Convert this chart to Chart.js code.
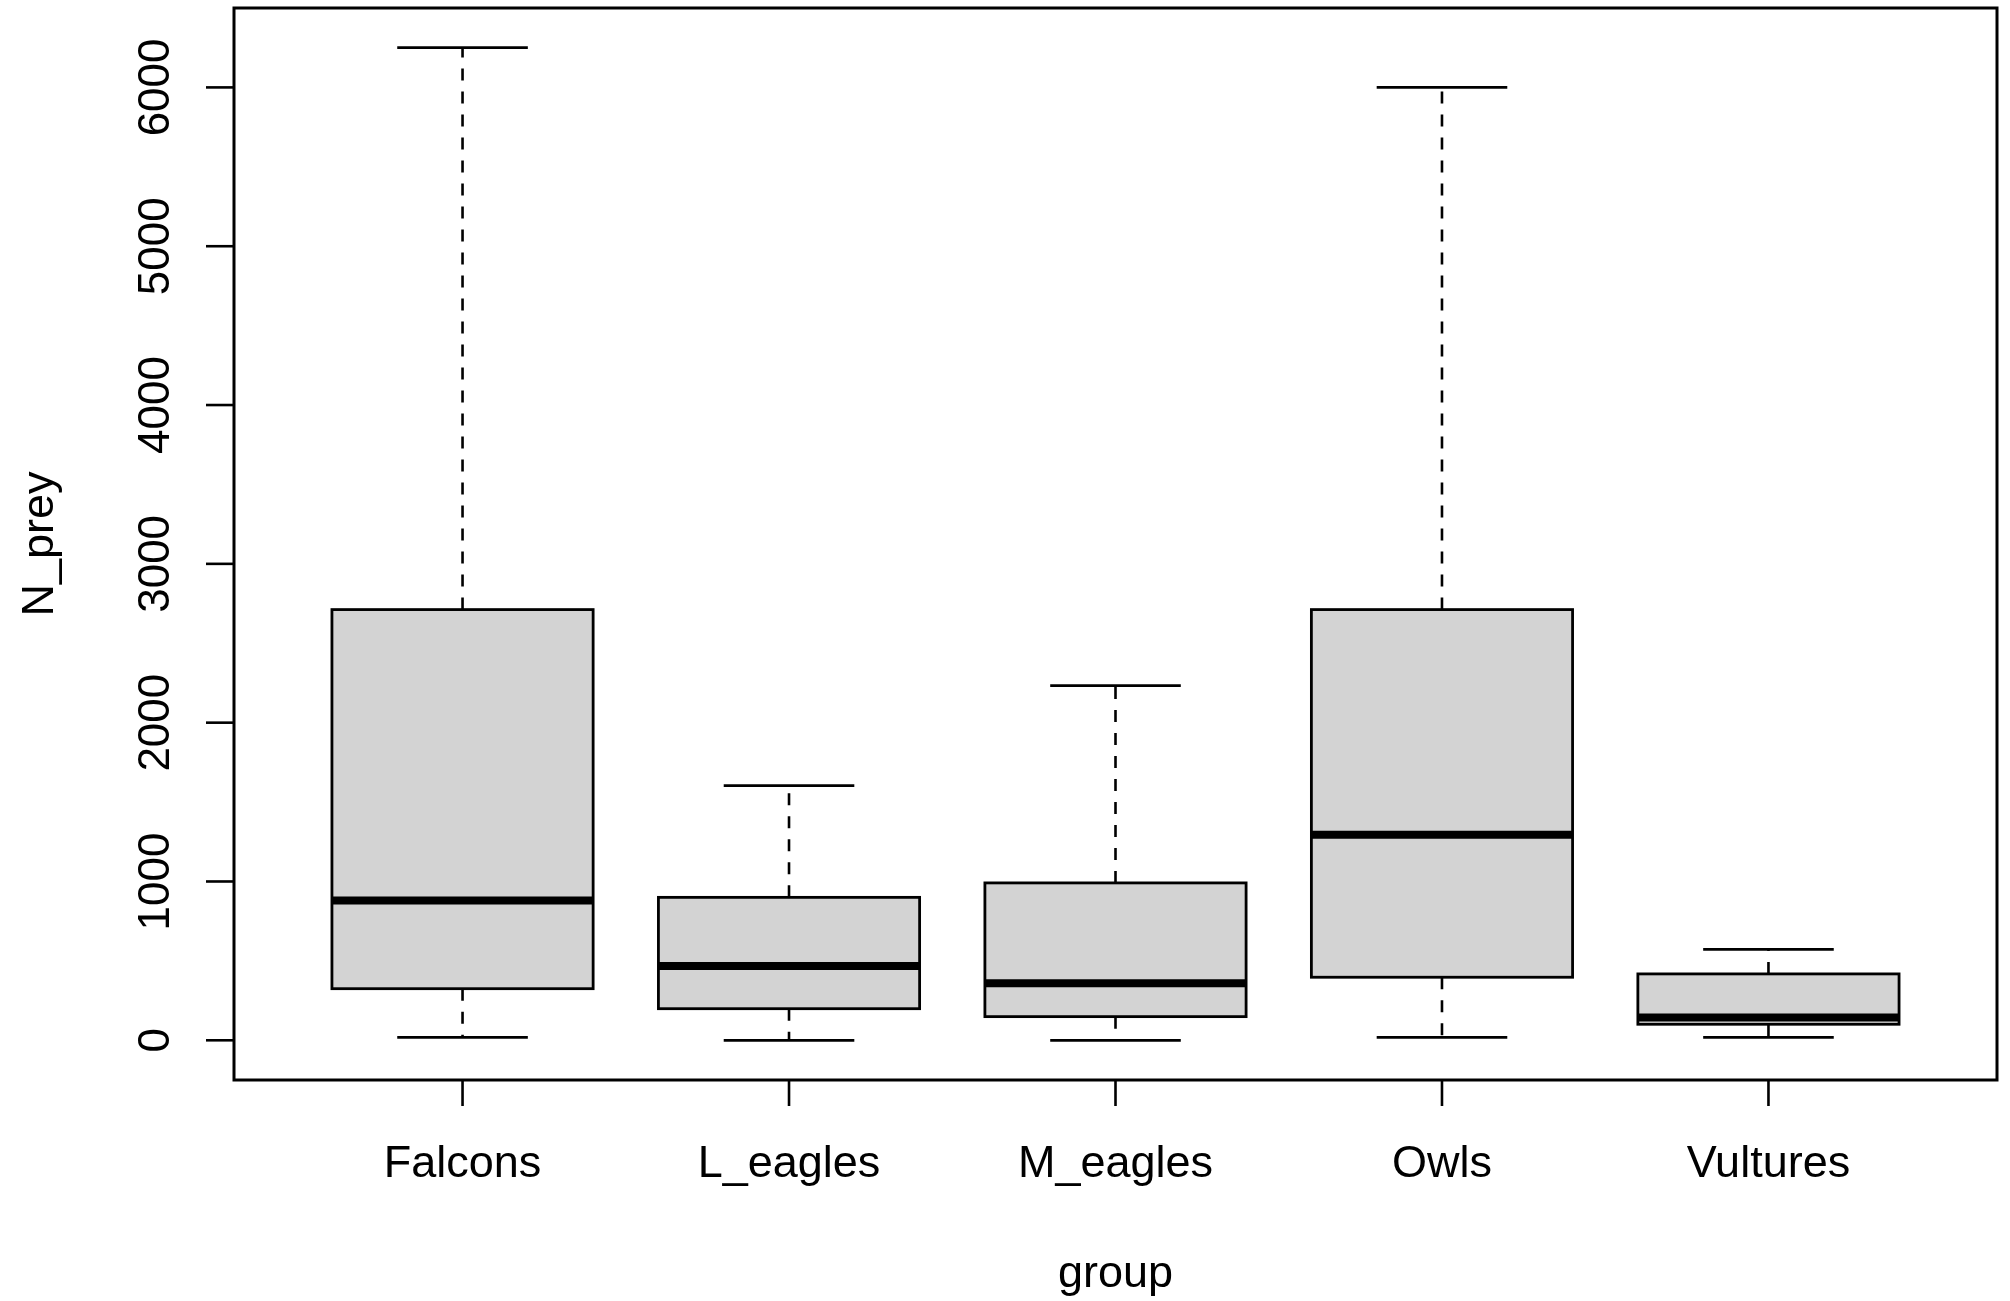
<!DOCTYPE html>
<html>
<head>
<meta charset="utf-8">
<script src="https://cdn.jsdelivr.net/npm/chart.js@4/dist/chart.umd.min.js"></script>
<style>
  html, body { margin: 0; padding: 0; background: #fff; overflow: hidden; }
  #wrap { position: relative; width: 2010px; height: 1301px; }
</style>
</head>
<body>
<div id="wrap"><canvas id="c" width="2010" height="1301"></canvas></div>
<script>
// Prey counts per raptor group: five-number summaries
const groups      = ['Falcons', 'L_eagles', 'M_eagles', 'Owls', 'Vultures'];
const whiskerLow  = [19,   0,    0,    19,   19];
const quartile1   = [325,  199,  149,  397,  101];
const median      = [880,  468,  359,  1294, 143];
const quartile3   = [2712, 900,  991,  2712, 418];
const whiskerHigh = [6250, 1603, 2233, 6000, 573];

const yTicks      = [0, 1000, 2000, 3000, 4000, 5000, 6000];
const yTickLabels = ['0', '1000', '2000', '3000', '4000', '5000', '6000'];
const xTitle = 'group';
const yTitle = 'N_prey';

const FONT = '"Liberation Sans", Arial, sans-serif';

function seg(ctx, x1, y1, x2, y2) {
  ctx.beginPath();
  ctx.moveTo(x1, y1);
  ctx.lineTo(x2, y2);
  ctx.stroke();
}

// Whiskers, staples, box outlines, medians, frame, axes and labels
const boxplotPlugin = {
  id: 'boxplotDecor',
  afterDatasetsDraw(chart) {
    const ctx = chart.ctx;
    const ys = chart.scales.y;
    const meta = chart.getDatasetMeta(0);
    ctx.save();
    ctx.strokeStyle = '#000';
    ctx.lineCap = 'butt';
    meta.data.forEach((bar, i) => {
      const cx = bar.x;
      const half = bar.width / 2;
      const yQ1 = ys.getPixelForValue(quartile1[i]);
      const yQ3 = ys.getPixelForValue(quartile3[i]);
      const yMed = ys.getPixelForValue(median[i]);
      const yLo = ys.getPixelForValue(whiskerLow[i]);
      const yHi = ys.getPixelForValue(whiskerHigh[i]);

      // dashed whiskers, starting at the box edges
      ctx.lineWidth = 2.6;
      ctx.setLineDash([12, 11]);
      seg(ctx, cx, yQ3, cx, yHi);
      seg(ctx, cx, yQ1, cx, yLo);
      ctx.setLineDash([]);

      // staples (half the box width)
      ctx.lineWidth = 2.8;
      seg(ctx, cx - half / 2, yHi, cx + half / 2, yHi);
      seg(ctx, cx - half / 2, yLo, cx + half / 2, yLo);

      // box outline
      ctx.lineWidth = 2.8;
      ctx.strokeRect(cx - half, yQ3, 2 * half, yQ1 - yQ3);

      // median
      ctx.lineWidth = 8;
      seg(ctx, cx - half, yMed, cx + half, yMed);
    });
    ctx.restore();
  },
  afterDraw(chart) {
    const ctx = chart.ctx;
    const a = chart.chartArea;
    const xs = chart.scales.x;
    const ys = chart.scales.y;
    ctx.save();
    ctx.strokeStyle = '#000';
    ctx.fillStyle = '#000';

    // frame
    ctx.lineWidth = 3;
    ctx.strokeRect(a.left, a.top, a.right - a.left, a.bottom - a.top);

    // y axis ticks and rotated labels
    ctx.lineWidth = 2.6;
    ctx.font = '44px ' + FONT;
    ctx.textAlign = 'center';
    ctx.textBaseline = 'alphabetic';
    yTicks.forEach((v, i) => {
      const py = ys.getPixelForValue(v);
      seg(ctx, a.left - 28, py, a.left, py);
      ctx.save();
      ctx.translate(169, py);
      ctx.rotate(-Math.PI / 2);
      ctx.fillText(yTickLabels[i], 0, 0);
      ctx.restore();
    });

    // x axis ticks and category labels
    ctx.font = '45px ' + FONT;
    xs.ticks.forEach((t, i) => {
      const px = xs.getPixelForValue(t.value);
      seg(ctx, px, a.bottom, px, a.bottom + 26);
      ctx.fillText(groups[i], px, 1177);
    });

    // axis titles
    ctx.fillText(xTitle, (a.left + a.right) / 2, 1287);
    ctx.save();
    ctx.translate(53, (a.top + a.bottom) / 2);
    ctx.rotate(-Math.PI / 2);
    ctx.fillText(yTitle, 0, 0);
    ctx.restore();

    ctx.restore();
  }
};

const boxData = groups.map((g, i) => ({ x: i + 1, y: [quartile1[i], quartile3[i]] }));

new Chart(document.getElementById('c'), {
  type: 'bar',
  data: {
    datasets: [{
      label: 'N_prey',
      data: boxData,
      backgroundColor: '#d3d3d3',
      borderWidth: 0,
      categoryPercentage: 1,
      barPercentage: 0.8
    }]
  },
  options: {
    responsive: false,
    animation: false,
    devicePixelRatio: 1,
    layout: { padding: { left: 234, top: 8, right: 13, bottom: 221 } },
    plugins: { legend: { display: false }, tooltip: { enabled: false } },
    scales: {
      x: {
        type: 'linear',
        min: 0.3,
        max: 5.7,
        offset: false,
        bounds: 'data',
        display: false,
        afterBuildTicks: (axis) => { axis.ticks = groups.map((g, i) => ({ value: i + 1 })); }
      },
      y: {
        type: 'linear',
        min: -250,
        max: 6500,
        offset: false,
        display: false
      }
    }
  },
  plugins: [boxplotPlugin]
});
</script>
</body>
</html>
